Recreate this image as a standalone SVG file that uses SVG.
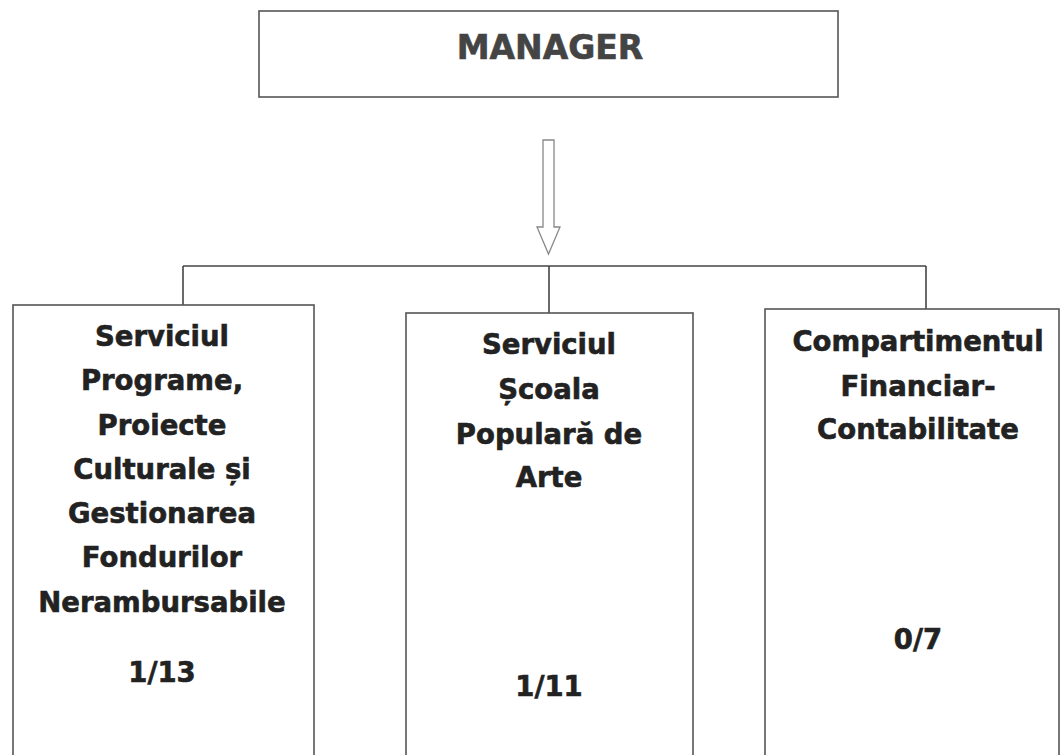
<svg xmlns="http://www.w3.org/2000/svg" width="1061" height="755" viewBox="0 0 1061 755">
<style>
.box{fill:#fff;stroke:#555;stroke-width:1.6}
.lbl{font-family:"DejaVu Sans","Liberation Sans",sans-serif;font-weight:bold;font-size:27.5px;fill:#222;stroke:#222;stroke-width:0.6;text-anchor:middle}
.conn{fill:none;stroke:#444;stroke-width:1.6}
</style>
<rect width="1061" height="755" fill="#fff"/>
<g id="manager">
<rect class="box" x="259" y="11" width="579" height="86"/>
<text class="lbl" x="550" y="59" style="font-size:33px;fill:#444;stroke:#444">MANAGER</text>
</g>
<g id="connectors">
<path d="M543,140 L554,140 L554,227 L560,227 L548.5,254 L537,227 L543,227 Z" fill="#fff" stroke="#888" stroke-width="1.3"/>
<path class="conn" d="M183,266 L926,266"/>
<path class="conn" d="M183,266 L183,305"/>
<path class="conn" d="M549,266 L549,313"/>
<path class="conn" d="M926,266 L926,309"/>
</g>
<g id="serviciul-programe">
<rect class="box" x="13" y="305" width="301" height="470"/>
<text class="lbl" x="162" y="346">Serviciul</text>
<text class="lbl" x="162" y="390">Programe,</text>
<text class="lbl" x="162" y="435">Proiecte</text>
<text class="lbl" x="162" y="479">Culturale și</text>
<text class="lbl" x="162" y="523">Gestionarea</text>
<text class="lbl" x="162" y="567">Fondurilor</text>
<text class="lbl" x="162" y="612">Nerambursabile</text>
<text class="lbl" x="162" y="682">1/13</text>
</g>
<g id="serviciul-scoala">
<rect class="box" x="406" y="313" width="287" height="470"/>
<text class="lbl" x="549" y="354">Serviciul</text>
<text class="lbl" x="549" y="399">Școala</text>
<text class="lbl" x="549" y="444">Populară de</text>
<text class="lbl" x="549" y="487">Arte</text>
<text class="lbl" x="549" y="696">1/11</text>
</g>
<g id="compartimentul">
<rect class="box" x="765" y="309" width="294" height="470"/>
<text class="lbl" x="918" y="351">Compartimentul</text>
<text class="lbl" x="918" y="396">Financiar-</text>
<text class="lbl" x="918" y="439">Contabilitate</text>
<text class="lbl" x="918" y="649">0/7</text>
</g>
</svg>
